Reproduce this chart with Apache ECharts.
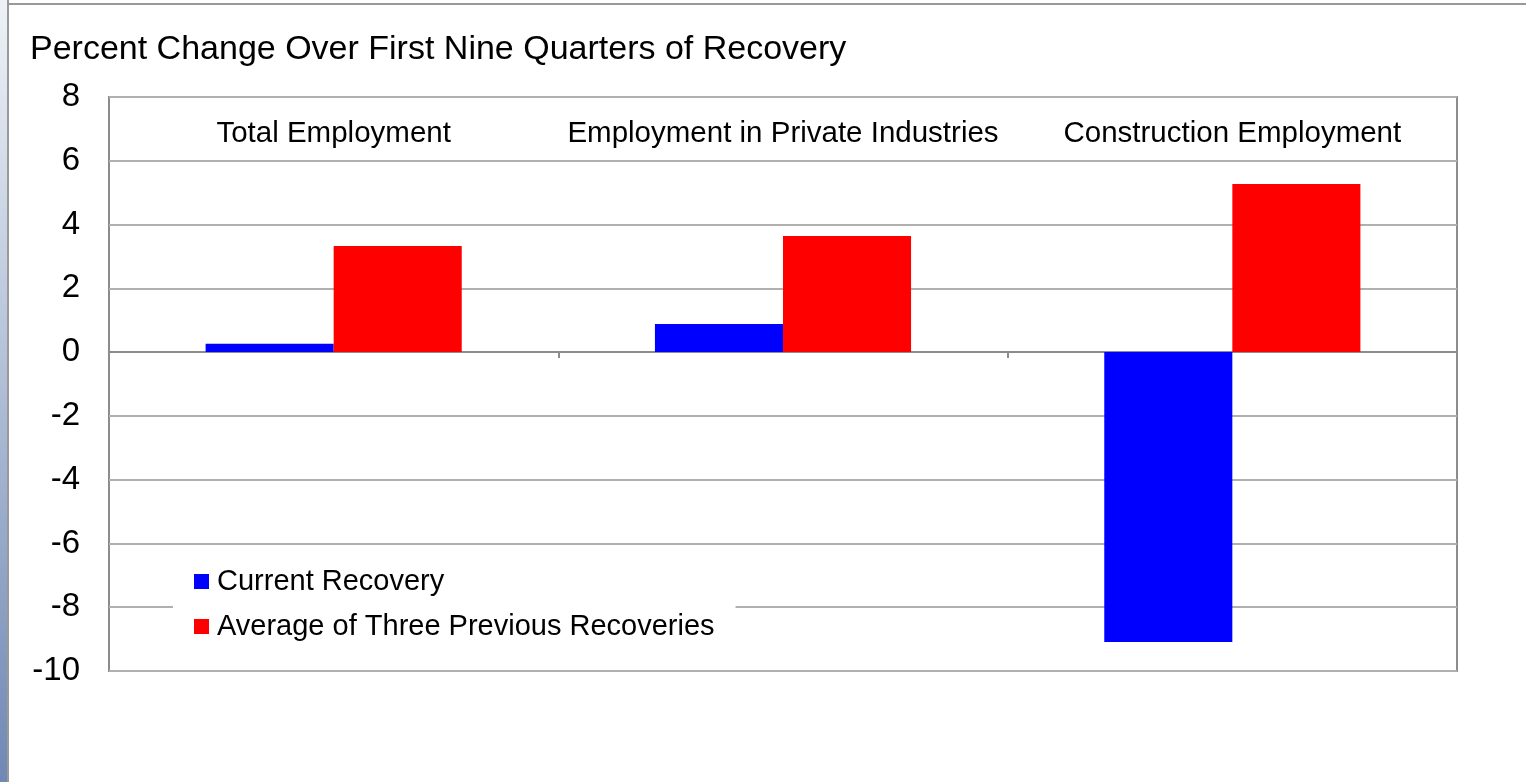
<!DOCTYPE html>
<html><head><meta charset="utf-8">
<script src="https://cdn.jsdelivr.net/npm/echarts@6/dist/echarts.min.js"></script>
<style>html,body{margin:0;padding:0;background:#fff}#c{width:1526px;height:782px}</style>
</head><body><div id="c"></div>
<script>
const categories = ['Total Employment', 'Employment in Private Industries', 'Construction Employment'];
const currentRecovery = [0.26, 0.88, -9.09];
const avgPrevious = [3.33, 3.64, 5.27];
const seriesNames = ['Current Recovery', 'Average of Three Previous Recoveries'];
const titleText = 'Percent Change Over First Nine Quarters of Recovery';

const chart = echarts.init(document.getElementById('c'));
const font = 'Arial, "Liberation Sans", sans-serif';
chart.setOption({
  animation: false,
  backgroundColor: '#fff',
  title: {text: titleText, left: 25, top: 28, textStyle: {fontFamily: font, fontSize: 34, fontWeight: 'normal', color: '#000'}},
  graphic: [
    {type: 'rect', left: 0, top: 0, shape: {width: 8, height: 782}, z: -1,
     style: {fill: new echarts.graphic.LinearGradient(0, 0, 0, 1, [{offset: 0, color: '#eef2f7'}, {offset: 1, color: '#7088b4'}])}},
    {type: 'line', shape: {x1: 8, y1: 0, x2: 8, y2: 782}, style: {stroke: '#999', lineWidth: 2}},
    {type: 'line', shape: {x1: 8, y1: 4, x2: 1526, y2: 4}, style: {stroke: '#999', lineWidth: 2}}
  ],
  grid: {left: 109, right: 69, top: 97, bottom: 111, show: true, borderColor: '#8c8c8c', borderWidth: 2, containLabel: false},
  legend: {
    orient: 'vertical', left: 173, top: 561, data: seriesNames,
    itemWidth: 15, itemHeight: 15, itemGap: 16, icon: 'rect',
    backgroundColor: '#fff', padding: [6, 21, 6, 21],
    textStyle: {fontFamily: font, fontSize: 29, color: '#000', padding: [0, 0, 0, 3]}
  },
  xAxis: [
    {type: 'category', data: categories, position: 'bottom',
     axisLine: {onZero: true, lineStyle: {color: '#8c8c8c', width: 2}},
     axisTick: {show: true, length: 6, lineStyle: {color: '#8c8c8c', width: 2}},
     axisLabel: {show: false}},
    {type: 'category', data: categories, position: 'top',
     axisLine: {show: false}, axisTick: {show: false},
     axisLabel: {inside: true, interval: 0, hideOverlap: false, margin: 22, fontFamily: font, fontSize: 29.5, color: '#000'}}
  ],
  yAxis: {
    type: 'value', min: -10, max: 8, interval: 2,
    axisLine: {show: false}, axisTick: {show: false},
    axisLabel: {margin: 29, fontFamily: font, fontSize: 33, color: '#000'},
    splitLine: {lineStyle: {color: '#b0b0b0', width: 2}}
  },
  series: [
    {name: seriesNames[0], type: 'bar', data: currentRecovery, itemStyle: {color: '#0000ff'}, barGap: '0%', barCategoryGap: '43%'},
    {name: seriesNames[1], type: 'bar', data: avgPrevious, itemStyle: {color: '#ff0000'}, barGap: '0%', barCategoryGap: '43%'}
  ]
});
</script></body></html>
